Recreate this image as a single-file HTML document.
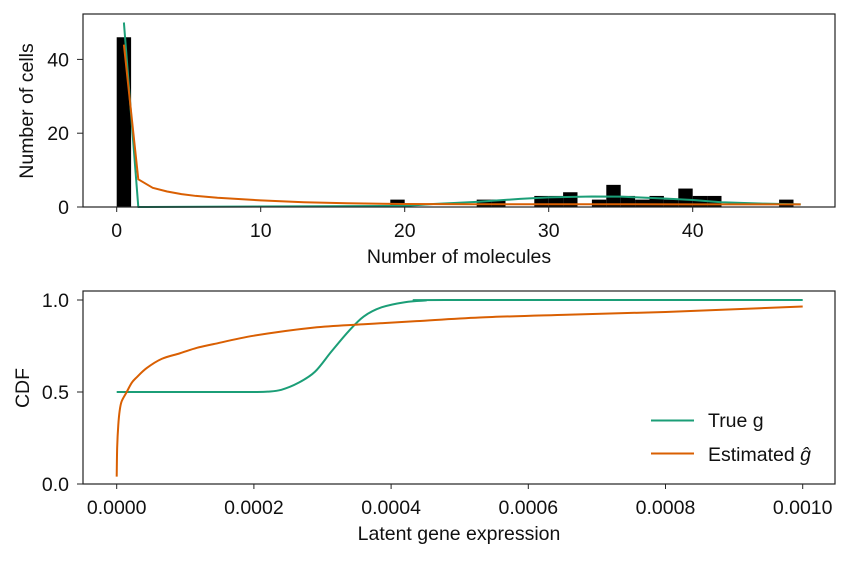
<!DOCTYPE html>
<html><head><meta charset="utf-8"><style>
body{margin:0;background:#fff}
svg text{font-family:"Liberation Sans",sans-serif;fill:#111}
</style></head><body>
<svg id="c" width="848" height="559"></svg>
<script>
const histStarts=[0,19,25,26,29,30,31,33,34,35,36,37,38,39,40,41,46];
const histCounts=[46,2,2,2,3,3,4,2,6,3,2,3,2,5,3,3,2];
const topGreenX=[0.5,1.5,2,20,22,25,28,30,33,35,38,40,42,45,47.5];
const topGreenY=[50,0,0,0.3,0.8,1.4,2.2,2.6,2.85,2.8,2.3,1.9,1.3,0.9,0.7];
const topOrangeX=[0.5,1.5,2.5,3.5,4.5,5.5,7,10,13,16,20,25,30,35,40,47.5];
const topOrangeY=[44,7.5,5.2,4.2,3.5,3.0,2.5,1.8,1.3,1.0,0.8,0.75,0.75,0.75,0.72,0.7];
const topXTicks=[0,10,20,30,40];
const topYTicks=[0,20,40];
const cdfTrueX=[0,0.00018,0.0002,0.00022,0.00024,0.000265,0.000289,0.000313,0.000338,0.00036,0.000386,0.00042,0.00045,0.00048,0.001];
const cdfTrueY=[0.5,0.5,0.5,0.502,0.512,0.55,0.61,0.72,0.83,0.91,0.96,0.988,0.997,1.0,1.0];
const cdfEstX=[0,0.0000007,0.0000023,0.0000044,0.0000073,0.0000146,0.0000219,0.0000292,0.0000437,0.0000656,0.0000918,0.000117,0.000141,0.0002,0.000287,0.00036,0.000437,0.000529,0.000656,0.0008,0.001];
const cdfEstY=[0.04,0.2,0.32,0.4,0.45,0.5,0.55,0.58,0.63,0.68,0.71,0.74,0.76,0.806,0.85,0.868,0.885,0.905,0.92,0.935,0.965];
const botXTicks=[0,0.0002,0.0004,0.0006,0.0008,0.001];
const botXLabels=["0.0000","0.0002","0.0004","0.0006","0.0008","0.0010"];
const botYTicks=[0,0.5,1.0];
const botYLabels=["0.0","0.5","1.0"];

const FS=19.5;
const NS="http://www.w3.org/2000/svg";
const svg=document.getElementById('c');
function mk(t,a,p){const e=document.createElementNS(NS,t);for(const k in a)e.setAttribute(k,a[k]);(p||svg).appendChild(e);return e;}
const GREEN="#1b9e77",ORANGE="#d95f02";
const tx=v=>116.7+v*14.4, ty=v=>207-v*3.69;
const g1=mk('g',{});
histStarts.forEach((s,i)=>{const r=mk('rect',{x:tx(s),y:ty(histCounts[i]),width:tx(s+1)-tx(s),height:207-ty(histCounts[i]),fill:'#000'},g1);

});
function line(xs,ys,fx,fy,col,p,name,smooth){
const P=xs.map((x,i)=>[fx(x),fy(ys[i])]);
let d='M'+P[0][0].toFixed(2)+','+P[0][1].toFixed(2);
for(let i=1;i<P.length;i++){
 if(!smooth){d+='L'+P[i][0].toFixed(2)+','+P[i][1].toFixed(2);continue;}
 const p0=P[Math.max(0,i-2)],p1=P[i-1],p2=P[i],p3=P[Math.min(P.length-1,i+1)];
 const c1=[p1[0]+(p2[0]-p0[0])/6,p1[1]+(p2[1]-p0[1])/6],c2=[p2[0]-(p3[0]-p1[0])/6,p2[1]-(p3[1]-p1[1])/6];
 d+='C'+c1.map(n=>n.toFixed(2))+' '+c2.map(n=>n.toFixed(2))+' '+p2[0].toFixed(2)+','+p2[1].toFixed(2);}
const e=mk('path',{d:d,fill:'none',stroke:col,'stroke-width':2,'stroke-linejoin':'round'},p);

return e;}
line(topGreenX,topGreenY,tx,ty,GREEN,g1,'true-density-line',false);
line(topOrangeX,topOrangeY,tx,ty,ORANGE,g1,'estimated-density-line',false);
mk('rect',{x:83,y:14,width:752,height:193,fill:'none',stroke:'#222','stroke-width':1.2},g1);
topXTicks.forEach(v=>{mk('line',{x1:tx(v),x2:tx(v),y1:207,y2:212,stroke:'#222'},g1);const t=mk('text',{x:tx(v),y:237,'text-anchor':'middle','font-size':FS},g1);t.textContent=v;
});
topYTicks.forEach(v=>{mk('line',{x1:77,x2:83,y1:ty(v),y2:ty(v),stroke:'#222'},g1);const t=mk('text',{x:69,y:ty(v)+7,'text-anchor':'end','font-size':FS},g1);t.textContent=v;
});
let t=mk('text',{x:459,y:263,'text-anchor':'middle','font-size':FS});t.textContent='Number of molecules';

t=mk('text',{x:33,y:111,'text-anchor':'middle','font-size':FS,transform:'rotate(-90 33 111)'});t.textContent='Number of cells';

const bx=v=>116.7+v*686000, by=v=>484-v*184;
const g2=mk('g',{});
line(cdfTrueX,cdfTrueY,bx,by,GREEN,g2,'true-cdf-line',true);
line(cdfEstX,cdfEstY,bx,by,ORANGE,g2,'estimated-cdf-line',true);
mk('rect',{x:83,y:291,width:752,height:193,fill:'none',stroke:'#222','stroke-width':1.2},g2);
botXTicks.forEach((v,i)=>{mk('line',{x1:bx(v),x2:bx(v),y1:484,y2:489,stroke:'#222'},g2);const t=mk('text',{x:bx(v),y:514,'text-anchor':'middle','font-size':FS},g2);t.textContent=botXLabels[i];
});
botYTicks.forEach((v,i)=>{mk('line',{x1:77,x2:83,y1:by(v),y2:by(v),stroke:'#222'},g2);const t=mk('text',{x:69,y:by(v)+7,'text-anchor':'end','font-size':FS},g2);t.textContent=botYLabels[i];
});
t=mk('text',{x:459,y:540,'text-anchor':'middle','font-size':FS});t.textContent='Latent gene expression';

t=mk('text',{x:29,y:388,'text-anchor':'middle','font-size':FS,transform:'rotate(-90 29 388)'});t.textContent='CDF';

const lg=mk('g',{});
mk('line',{x1:651,x2:694,y1:420.5,y2:420.5,stroke:GREEN,'stroke-width':2},lg);
mk('line',{x1:651,x2:694,y1:453.5,y2:453.5,stroke:ORANGE,'stroke-width':2},lg);
t=mk('text',{x:708,y:427,'font-size':FS},lg);t.textContent='True g';

t=mk('text',{x:708,y:461,'font-size':FS},lg);t.innerHTML='Estimated <tspan font-style="italic">ĝ</tspan>';

</script>
</body></html>
